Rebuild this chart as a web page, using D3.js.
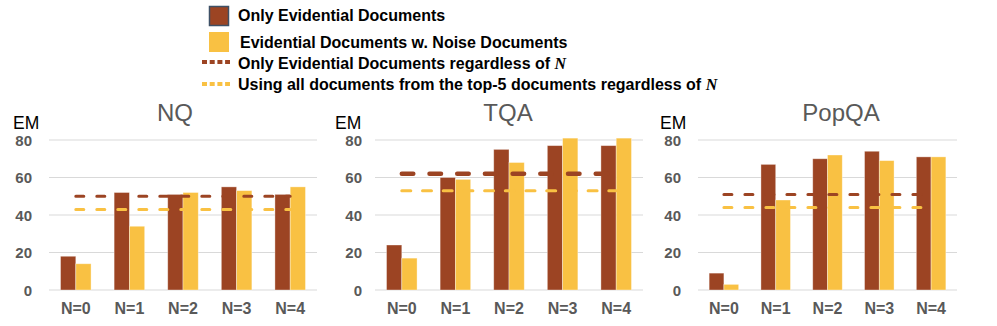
<!DOCTYPE html>
<html>
<head>
<meta charset="utf-8">
<script src="https://cdn.jsdelivr.net/npm/d3@7"></script>
<style>
  html, body { margin: 0; padding: 0; background: #fff; }
  svg { display: block; font-family: "Liberation Sans", Arial, sans-serif; }
</style>
</head>
<body>
<svg id="chart" width="997" height="326"></svg>
<script>
// ---- data ----
const categories = ["N=0", "N=1", "N=2", "N=3", "N=4"];
const datasets = ["NQ", "TQA", "PopQA"];
const yTicks = [0, 20, 40, 60, 80];

const nqOnly   = [18, 52, 51, 55, 51];
const nqNoise  = [14, 34, 52, 53, 55];
const tqaOnly  = [24, 60, 75, 77, 77];
const tqaNoise = [17, 59, 68, 81, 81];
const popOnly  = [9, 67, 70, 74, 71];
const popNoise = [3, 48, 72, 69, 71];

// horizontal reference values (regardless of N)
const onlyAllN = [50, 62, 51];   // Only Evidential Documents regardless of N
const top5AllN = [43, 53, 44];   // Using all documents from the top-5 documents

const legendLabels = [
  "Only Evidential Documents",
  "Evidential Documents w. Noise Documents",
  "Only Evidential Documents regardless of ",
  "Using all documents from the top-5 documents regardless of "
];

// ---- style / layout ----
const BROWN = "#9C4423";
const YELLOW = "#F9C143";
const GRAY_TXT = "#595959";
const GRID = "#d9d9d9";

const panels = [
  { name: datasets[0], only: nqOnly,  noise: nqNoise,  left: 49,  right: 317, tickX: 32,  emX: 13,  titleX: 175,
    dashOnly: { w: 3, da: "8,13" }, dashTop: { w: 3, da: "8,13" } },
  { name: datasets[1], only: tqaOnly, noise: tqaNoise, left: 375, right: 643, tickX: 362, emX: 335, titleX: 508,
    dashOnly: { w: 4.5, da: "11.5,16.2" }, dashTop: { w: 3, da: "9,11.7" } },
  { name: datasets[2], only: popOnly, noise: popNoise, left: 698, right: 957, tickX: 681, emX: 660, titleX: 841,
    dashOnly: { w: 3, da: "8,13" }, dashTop: { w: 3, da: "8,13" } }
];

const svg = d3.select("#chart");
const y = d3.scaleLinear().domain([0, 80]).range([290, 140]);

panels.forEach((p, i) => {
  const g = svg.append("g");
  const x0 = d3.scaleBand().domain(categories).range([p.left, p.right])
    .paddingInner(0.43).paddingOuter(0.215);
  const x1 = d3.scaleBand().domain(["only", "noise"]).range([0, x0.bandwidth()]);

  // gridlines
  g.selectAll("line.grid").data(yTicks).join("line")
    .attr("x1", p.left).attr("x2", p.right)
    .attr("y1", d => y(d)).attr("y2", d => y(d))
    .attr("stroke", GRID).attr("stroke-width", 1);

  // y tick labels
  g.selectAll("text.ytick").data(yTicks).join("text")
    .attr("x", p.tickX).attr("y", d => y(d) + 5.5)
    .attr("text-anchor", "end")
    .attr("font-size", 15).attr("font-weight", "bold")
    .attr("fill", GRAY_TXT)
    .text(d => d);

  // EM
  g.append("text").attr("x", p.emX).attr("y", 128.5)
    .attr("font-size", 17.5).attr("fill", "#000").text("EM");

  // title
  g.append("text").attr("x", p.titleX).attr("y", 121)
    .attr("text-anchor", "middle").attr("font-size", 24)
    .attr("fill", GRAY_TXT).text(p.name);

  // bars
  const rows = categories.map((c, k) => ({ c, only: p.only[k], noise: p.noise[k] }));
  const grp = g.selectAll("g.cat").data(rows).join("g")
    .attr("transform", d => `translate(${x0(d.c)},0)`);
  grp.append("rect")
    .attr("x", x1("only")).attr("width", x1.bandwidth())
    .attr("y", d => y(d.only)).attr("height", d => y(0) - y(d.only))
    .attr("fill", BROWN).attr("stroke", "#fff").attr("stroke-opacity", 0.45).attr("stroke-width", 0.8);
  grp.append("rect")
    .attr("x", x1("noise")).attr("width", x1.bandwidth())
    .attr("y", d => y(d.noise)).attr("height", d => y(0) - y(d.noise))
    .attr("fill", YELLOW).attr("stroke", "#fff").attr("stroke-opacity", 0.45).attr("stroke-width", 0.8);

  // x labels
  g.selectAll("text.xl").data(categories).join("text")
    .attr("x", d => x0(d) + x0.bandwidth() / 2).attr("y", 313.5)
    .attr("text-anchor", "middle").attr("font-size", 16).attr("font-weight", "bold")
    .attr("fill", GRAY_TXT).text(d => d);

  // dashed reference lines (on top of bars)
  const xs = x0(categories[0]) + x0.bandwidth() / 2;
  const xe = x0(categories[categories.length - 1]) + x0.bandwidth() / 2;
  g.append("line").attr("x1", xs).attr("x2", xe)
    .attr("y1", y(onlyAllN[i])).attr("y2", y(onlyAllN[i]))
    .attr("stroke", BROWN).attr("stroke-width", p.dashOnly.w)
    .attr("stroke-dasharray", p.dashOnly.da).attr("stroke-linecap", "round");
  g.append("line").attr("x1", xs).attr("x2", xe)
    .attr("y1", y(top5AllN[i])).attr("y2", y(top5AllN[i]))
    .attr("stroke", YELLOW).attr("stroke-width", p.dashTop.w)
    .attr("stroke-dasharray", p.dashTop.da).attr("stroke-linecap", "round");
});

// ---- legend ----
const lg = svg.append("g").attr("font-size", 16).attr("font-weight", "bold").attr("fill", "#000");
lg.append("rect").attr("x", 209.5).attr("y", 6.5).attr("width", 19).attr("height", 19)
  .attr("fill", BROWN).attr("stroke", "#3E5066").attr("stroke-width", 1.5);
lg.append("rect").attr("x", 209).attr("y", 32).attr("width", 20).attr("height", 20)
  .attr("fill", YELLOW);
lg.append("line").attr("x1", 202).attr("x2", 230).attr("y1", 62).attr("y2", 62)
  .attr("stroke", BROWN).attr("stroke-width", 4).attr("stroke-dasharray", "5,2.7");
lg.append("line").attr("x1", 202).attr("x2", 230).attr("y1", 84).attr("y2", 84)
  .attr("stroke", YELLOW).attr("stroke-width", 4).attr("stroke-dasharray", "5,2.7");

const legY = [20.7, 47.7, 68.5, 89.5];
const legX = [238, 240, 238, 238];
legendLabels.forEach((t, k) => {
  const tx = lg.append("text").attr("x", legX[k]).attr("y", legY[k]);
  tx.append("tspan").text(t);
  if (k >= 2) {
    tx.append("tspan").attr("font-family", "'Liberation Serif', 'DejaVu Serif', serif")
      .attr("font-style", "italic").attr("font-weight", "bold").text("N");
  }
});
</script>
</body>
</html>
